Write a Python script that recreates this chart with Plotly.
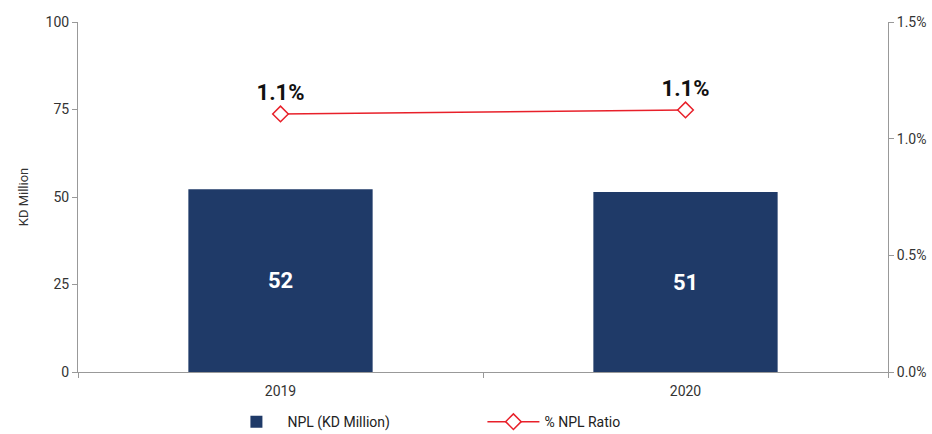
import plotly.graph_objects as go

years = ["2019", "2020"]
npl_values = [52.2, 51.4]
npl_labels = ["52", "51"]
npl_ratio = [0.01106, 0.01123]
ratio_labels = ["1.1%", "1.1%"]

FONT = "Roboto"
fig = go.Figure()
fig.add_trace(go.Bar(
    x=years, y=npl_values, name="NPL (KD Million)",
    marker=dict(color="#1f3a68", line=dict(width=0)),
    width=0.455,
    text=npl_labels, textposition="inside", insidetextanchor="middle",
    textfont=dict(family=FONT, size=22, color="white", weight="bold"),
    yaxis="y",
))
fig.add_trace(go.Scatter(
    x=years, y=npl_ratio, name="% NPL Ratio",
    mode="lines+markers+text",
    line=dict(color="#e8202a", width=1.5),
    marker=dict(symbol="diamond", size=12, color="white",
                line=dict(color="#e8202a", width=1.5)),
    text=ratio_labels, textposition="top center",
    textfont=dict(family=FONT, size=22, color="#111", weight="bold"),
    yaxis="y2", cliponaxis=False,
))

fig.update_layout(
    width=932, height=434,
    margin=dict(l=78, r=44, t=22, b=62, autoexpand=False),
    plot_bgcolor="white", paper_bgcolor="white",
    font=dict(family=FONT, size=13, color="#333"),
    bargap=0.545,
    xaxis=dict(showline=True, linecolor="#999", linewidth=1,
               ticks="outside", tickson="boundaries", ticklen=5, tickcolor="#999",
               ticklabelstandoff=6,
               showgrid=False, tickfont=dict(size=14, color="#333")),
    yaxis=dict(range=[0, 100], tickvals=[0, 25, 50, 75, 100],
               showline=True, linecolor="#999", linewidth=1,
               ticks="outside", ticklen=5, tickcolor="#999",
               showgrid=False, zeroline=False, tickfont=dict(size=14, color="#333"),
               title=dict(text="KD Million", font=dict(size=13, color="#333"), standoff=14)),
    yaxis2=dict(range=[0, 0.015], tickvals=[0, 0.005, 0.01, 0.015], tickformat=".1%",
                overlaying="y", side="right",
                showline=True, linecolor="#999", linewidth=1,
                ticks="outside", ticklen=5, tickcolor="#999",
                showgrid=False, zeroline=False, tickfont=dict(size=14, color="#333")),
    showlegend=True,
    legend=dict(orientation="h", x=0.182, xanchor="left", y=-0.143, yanchor="middle",
                itemwidth=52, entrywidth=190, font=dict(size=14, color="#222"),
                bgcolor="rgba(0,0,0,0)"),
)

fig.write_html("out.html")
